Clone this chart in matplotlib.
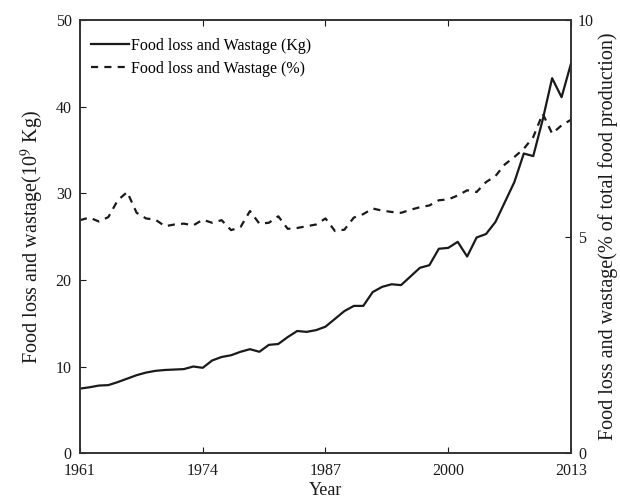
import matplotlib
matplotlib.use("Agg")
import matplotlib.pyplot as plt

plt.rcParams['font.family'] = ['Liberation Serif', 'DejaVu Serif']
plt.rcParams['mathtext.fontset'] = 'stix'

years = list(range(1961, 2014))

# food loss and wastage, 10^9 Kg (left axis)
loss_kg = [7.45, 7.6, 7.8, 7.85, 8.2, 8.6, 9.0, 9.3, 9.5, 9.6,
           9.65, 9.7, 10.0, 9.85, 10.7, 11.1, 11.3, 11.7, 12.0, 11.7,
           12.5, 12.6, 13.4, 14.1, 14.0, 14.2, 14.6, 15.5, 16.4, 17.0,
           17.0, 18.6, 19.2, 19.5, 19.4, 20.4, 21.4, 21.7, 23.6, 23.7,
           24.4, 22.7, 24.9, 25.3, 26.7, 29.0, 31.3, 34.6, 34.3, 38.5,
           43.3, 41.1, 45.0]

# food loss and wastage, % of total food production (right axis)
loss_pct = [5.38, 5.44, 5.35, 5.45, 5.84, 6.03, 5.55, 5.42, 5.39, 5.24,
            5.28, 5.30, 5.26, 5.39, 5.32, 5.38, 5.15, 5.22, 5.59, 5.30,
            5.32, 5.47, 5.18, 5.20, 5.24, 5.28, 5.42, 5.13, 5.16, 5.44,
            5.52, 5.65, 5.60, 5.57, 5.55, 5.62, 5.68, 5.72, 5.84, 5.86,
            5.95, 6.07, 6.03, 6.26, 6.40, 6.67, 6.84, 7.03, 7.30, 7.84,
            7.38, 7.57, 7.70]

x_ticks = [1961, 1974, 1987, 2000, 2013]
left_ticks = [0, 10, 20, 30, 40, 50]
right_ticks = [0, 5, 10]

ink = '#1a1a1a'

fig = plt.figure(figsize=(6.2, 5.04), dpi=100)
ax = fig.add_axes([0.129, 0.101, 0.792, 0.859])
ax2 = ax.twinx()

l1, = ax.plot(years, loss_kg, color=ink, lw=1.6, label='Food loss and Wastage (Kg)')
l2, = ax2.plot(years, loss_pct, color=ink, lw=1.6, dashes=(3.2, 2.8),
               label='Food loss and Wastage (%)')

ax.set_xlim(1961, 2013)
ax.set_ylim(0, 50)
ax2.set_ylim(0, 10)
ax.set_xticks(x_ticks)
ax.set_yticks(left_ticks)
ax2.set_yticks(right_ticks)

ax.tick_params(axis='x', direction='in', top=True, length=4, labelsize=11.5, colors=ink, pad=7)
ax.tick_params(axis='y', direction='in', length=4, labelsize=11.5, colors=ink, pad=6)
ax2.tick_params(axis='y', direction='in', length=4, labelsize=11.5, colors=ink, pad=5)

for a in (ax, ax2):
    for s in a.spines.values():
        s.set_linewidth(1.2)
        s.set_color('#333333')

ax.set_xlabel('Year', fontsize=13, color=ink, labelpad=2)
ax.set_ylabel('Food loss and wastage(10$^{9}$ Kg)', fontsize=14.5, color=ink, labelpad=7)
ax2.set_ylabel('Food loss and wastage(% of total food production)', fontsize=14.5,
               color=ink, labelpad=3)

ax.legend(handles=[l1, l2], loc='upper left', frameon=False, fontsize=11.5,
          handlelength=2.4, handletextpad=0.1, labelspacing=0.45,
          borderaxespad=0.3, bbox_to_anchor=(0.0, 0.985))

fig.savefig('out.png', dpi=100)
